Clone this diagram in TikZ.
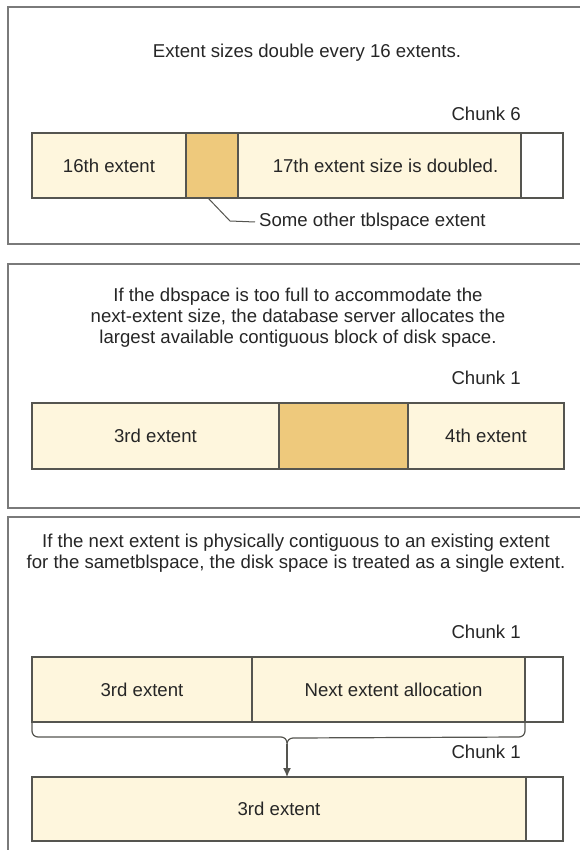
\documentclass[tikz,border=0pt]{standalone}
\usepackage{fontspec}
\setmainfont{Liberation Sans}
\usetikzlibrary{arrows.meta}
\definecolor{cream}{HTML}{FEF6DD}
\definecolor{ochre}{HTML}{EEC97C}
\definecolor{edge}{HTML}{555550}
\definecolor{frame}{HTML}{7A7A7A}
\definecolor{ink}{HTML}{262626}
\begin{document}
\begin{tikzpicture}[x=1pt,y=1pt,
  every node/.style={font=\fontsize{18.6}{21}\selectfont, text=ink},
  panel/.style={draw=frame, line width=1.6pt},
  seg/.style={draw=edge, line width=1.2pt, rectangle, inner sep=0pt, outer sep=0pt},
  lightseg/.style={seg, fill=cream},
  darkseg/.style={seg, fill=ochre},
  freeseg/.style={seg, fill=white},
  label/.style={inner sep=0pt},
  caption/.style={inner sep=0pt, align=center},
  link/.style={draw=edge, line width=1.2pt}
]
\useasboundingbox (0,0) rectangle (580,-850);
\clip (0,0) rectangle (580,-850);
\fill[white] (0,0) rectangle (580,-850);

% ---------- Panel 1 ----------
\draw[panel] (8,-7) rectangle (600,-244);
\node[caption] (t1) at (307,-53) {Extent sizes double every 16 extents.};
\node[label, anchor=east] (c6) at (521,-114) {Chunk 6};
\node[lightseg, minimum width=154pt, minimum height=65pt] (p1a) at (109,-165.5) {16th extent};
\node[darkseg, minimum width=52pt, minimum height=65pt] (p1b) at (212,-165.5) {};
\node[lightseg, minimum width=283pt, minimum height=65pt] (p1c) at (379.5,-165.5) {\hspace*{12pt}17th extent size is doubled.};
\node[freeseg, minimum width=42pt, minimum height=65pt] (p1d) at (542,-165.5) {};
\node[label, anchor=west] (lead) at (259,-222) {Some other tblspace extent};
\coordinate (bend) at (230,-221);
\draw[link, line width=1pt] ([xshift=-4pt]p1b.south) -- (bend) -- ([xshift=-4pt]lead.west);

% ---------- Panel 2 ----------
\draw[panel] (8,-264) rectangle (600,-508);
\node[caption] (t2) at (298,-318) {If the dbspace is too full to accommodate the\\next-extent size, the database server allocates the\\largest available contiguous block of disk space.};
\node[label, anchor=east] (c1a) at (521,-378) {Chunk 1};
\node[lightseg, minimum width=247pt, minimum height=66pt] (p2a) at (155.5,-436) {3rd extent};
\node[darkseg, minimum width=129pt, minimum height=66pt] (p2b) at (343.5,-436) {};
\node[lightseg, minimum width=156pt, minimum height=66pt] (p2c) at (486,-436) {4th extent};

% ---------- Panel 3 ----------
\draw[panel] (8,-517) rectangle (600,-870);
\node[caption] (t3) at (296,-553) {If the next extent is physically contiguous to an existing extent\\for the sametblspace, the disk space is treated as a single extent.};
\node[label, anchor=east] (c1b) at (521,-632) {Chunk 1};
\node[lightseg, minimum width=220pt, minimum height=65pt] (p3a) at (142,-689.5) {3rd extent};
\node[lightseg, minimum width=273pt, minimum height=65pt] (p3b) at (388.5,-689.5) {\hspace*{10pt}Next extent allocation};
\node[freeseg, minimum width=38pt, minimum height=65pt] (p3c) at (544,-689.5) {};
\node[label, anchor=east] (c1c) at (521,-752) {Chunk 1};
\node[lightseg, minimum width=494pt, minimum height=64pt] (p4a) at (279,-809) {3rd extent};
\node[freeseg, minimum width=37pt, minimum height=64pt] (p4b) at (544.5,-809) {};

% brace
\coordinate (cusp) at (287,-744);
\draw[link] (p3a.south west) -- ++(0,-9) arc[start angle=180, end angle=270, radius=6pt]
  -- (281,-737) arc[start angle=90, end angle=0, radius=6pt];
\draw[link] (cusp) arc[start angle=180, end angle=90, radius=6pt]
  -- (519,-737) arc[start angle=270, end angle=360, radius=6pt] -- (p3b.south east);
\draw[link, -{Latex[length=9pt,width=8pt]}] (cusp) -- (cusp |- p4a.north);
\end{tikzpicture}
\end{document}
